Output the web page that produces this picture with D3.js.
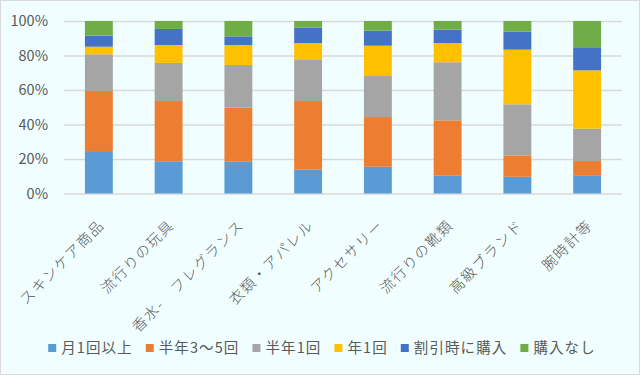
<!DOCTYPE html>
<html>
<head>
<meta charset="utf-8">
<script src="https://cdn.jsdelivr.net/npm/d3@7"></script>
<style>
  body { margin: 0; background: #fff; }
  svg text { font-family: "Noto Sans CJK JP", "Noto Sans", sans-serif; fill: #595959; }
</style>
</head>
<body>
<svg id="chart" width="640" height="375"></svg>
<script>
// categories and series (percent of respondents)
const categories = ['スキンケア商品', '流行りの玩具', '香水-　フレグランス', '衣類・アパレル', 'アクセサリー', '流行りの靴類', '高級ブランド', '腕時計等'];
const seriesNames = ['月1回以上', '半年3～5回', '半年1回', '年1回', '割引時に購入', '購入なし'];
const monthly   = [24.6, 18.7, 18.4, 13.8, 15.5, 10.3,  9.7, 10.6];
const halfYear3 = [34.8, 34.9, 31.3, 39.8, 28.8, 32.1, 12.4,  8.2];
const halfYear1 = [21.3, 22.1, 24.8, 24.2, 23.8, 33.7, 29.6, 18.8];
const yearly    = [ 4.4, 10.4, 11.6,  9.4, 17.6, 11.1, 31.7, 33.8];
const onSale    = [ 6.4,  9.3,  5.0,  8.9,  8.7,  7.8, 10.4, 13.4];
const never     = [ 8.5,  4.6,  8.9,  3.9,  5.6,  5.0,  6.2, 15.2];
const yTicks = [0, 0.2, 0.4, 0.6, 0.8, 1];

const colors = ['#5B9BD5', '#ED7D31', '#A5A5A5', '#FFC000', '#4472C4', '#70AD47'];
const seriesValues = [monthly, halfYear3, halfYear1, yearly, onSale, never];

const width = 640, height = 375;
const margin = {top: 21, right: 18, bottom: 181.5, left: 64};

const svg = d3.select('#chart');

svg.append('rect')
  .attr('x', 0.5).attr('y', 0.5)
  .attr('width', width - 1).attr('height', height - 1)
  .attr('fill', '#F0FEFF')
  .attr('stroke', '#D9D9D9');

// rows -> normalised stack
const rows = categories.map((c, i) => {
  const row = {cat: c};
  let total = 0;
  seriesNames.forEach((s, j) => { total += seriesValues[j][i]; });
  seriesNames.forEach((s, j) => { row[s] = seriesValues[j][i] / total; });
  return row;
});
const stacked = d3.stack().keys(seriesNames)(rows);

const x = d3.scaleBand()
  .domain(categories)
  .range([margin.left, width - margin.right])
  .paddingInner(0.6)
  .paddingOuter(0.3);

const y = d3.scaleLinear()
  .domain([0, 1])
  .range([height - margin.bottom, margin.top]);

// grid + y labels
const yAxis = g => g
  .attr('transform', `translate(${margin.left},0)`)
  .call(d3.axisLeft(y).tickValues(yTicks).tickFormat(d3.format('.0%'))
    .tickSize(-(width - margin.left - margin.right)).tickPadding(16))
  .call(g => g.select('.domain').remove())
  .call(g => g.selectAll('.tick line').attr('stroke', '#D9D9D9').attr('stroke-width', 1.3))
  .call(g => g.selectAll('.tick text').style('font-size', '14.5px').attr('fill', '#595959'));

svg.append('g').call(yAxis);

svg.append('g')
  .selectAll('g')
  .data(stacked)
  .join('g')
  .attr('fill', (d, i) => colors[i])
  .selectAll('rect')
  .data(d => d)
  .join('rect')
  .attr('x', d => x(d.data.cat))
  .attr('y', d => y(d[1]))
  .attr('height', d => y(d[0]) - y(d[1]))
  .attr('width', x.bandwidth());

// rotated category labels
svg.append('g')
  .selectAll('text')
  .data(categories)
  .join('text')
  .attr('transform', d => `translate(${x(d) + x.bandwidth() / 2 + 3},${y(0) + 29}) rotate(-45)`)
  .attr('text-anchor', 'end')
  .attr('dy', '0.35em')
  .style('font-size', '14.5px')
  .style('letter-spacing', '1.6px')
  .style('font-weight', 300)
  .text(d => d);

// legend
const legend = svg.append('g');
const items = legend.selectAll('g')
  .data(seriesNames)
  .join('g');
items.append('rect')
  .attr('width', 8).attr('height', 8)
  .attr('y', -4)
  .attr('fill', (d, i) => colors[i]);
items.append('text')
  .attr('x', 13)
  .attr('dy', '0.35em')
  .style('font-size', '14.5px')
  .style('letter-spacing', '1.1px')
  .text(d => d);

let offset = 0;
items.each(function() {
  d3.select(this).attr('transform', `translate(${offset},0)`);
  offset += 13 + d3.select(this).select('text').node().getComputedTextLength() + 13;
});
const legendWidth = offset - 13;
legend.attr('transform', `translate(${(width - legendWidth) / 2 + 2},348)`);
</script>
</body>
</html>
